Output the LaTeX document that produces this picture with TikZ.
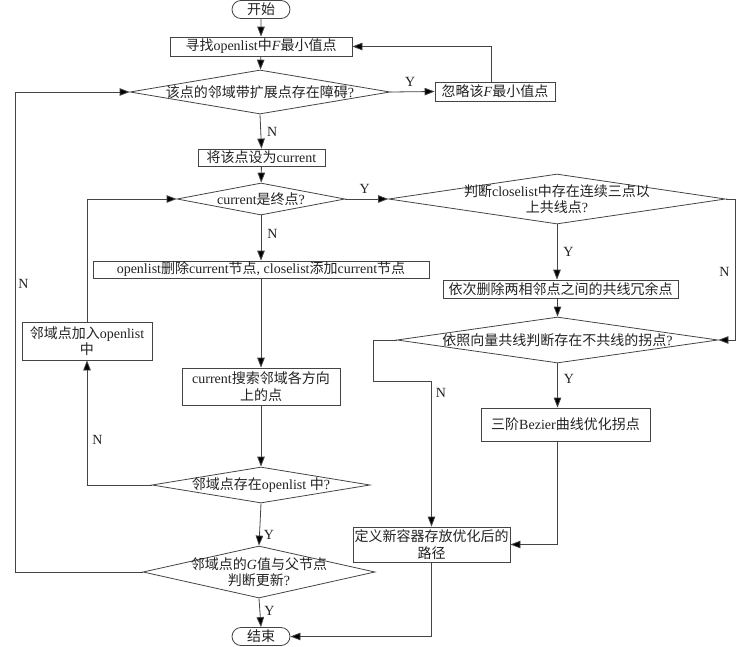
\documentclass[tikz,border=0pt]{standalone}
\usepackage{fontspec}
\setmainfont{Liberation Serif}
\newfontfamily\cjk{Noto Sans CJK SC}
\newcommand\zh[1]{{\cjk #1}}
\usepackage{tikz}
\usetikzlibrary{shapes.geometric, shapes.misc, arrows.meta, positioning, calc}
\definecolor{ink}{HTML}{222222}
\definecolor{edge}{HTML}{444444}
\tikzset{
  box/.style      = {draw=edge, line width=0.8pt, rectangle, align=center,
                     inner sep=0pt, font=\fontsize{14}{16.5}\selectfont, text=ink},
  term/.style     = {box, rounded rectangle, minimum width=58pt, minimum height=18pt},
  decision/.style = {draw=edge, line width=0.8pt, diamond, inner sep=0pt},
  dtext/.style    = {align=center, inner sep=0pt, font=\fontsize{14}{16.5}\selectfont, text=ink},
  flow/.style     = {-{Triangle[length=10pt,width=7.5pt,fill=black]}, draw=edge, line width=0.8pt},
  yn/.style       = {font=\fontsize{14}{16}\selectfont, text=ink, inner sep=0pt},
}

\begin{document}
\begin{tikzpicture}[x=1pt, y=-1pt]
  \useasboundingbox (0,0) rectangle (750,646);

  % main column
  \node[term] (start) at (261,9.5) {\zh{开始}};
  \node[box, minimum width=182pt, minimum height=19pt] (find) at (261,46.5)
    {\zh{寻找}openlist\zh{中}\textit{F}\zh{最小值点}};
  \node[decision, minimum width=260pt, minimum height=44pt] (d1) at (260,92) {};
  \node[dtext] (d1t) at (d1) {\zh{该点的邻域带扩展点存在障碍}?};
  \node[box, minimum width=120pt, minimum height=19pt] (skip) at (495,91.5)
    {\zh{忽略该}\textit{F}\zh{最小值点}};
  \node[box, minimum width=127pt, minimum height=17pt] (setcur) at (261.5,157.5)
    {\zh{将该点设为}current};
  \node[decision, minimum width=168pt, minimum height=32pt] (d2) at (261,199) {};
  \node[dtext] (d2t) at (d2) {current\zh{是终点}?};
  \node[box, minimum width=336pt, minimum height=17pt] (remove) at (261,269.5)
    {openlist\zh{删除}current\zh{节点}, closelist\zh{添加}current\zh{节点}};
  \node[box, minimum width=158pt, minimum height=37pt] (search) at (261,386.5)
    {current\zh{搜索邻域各方向}\\\zh{上的点}};
  \node[decision, minimum width=218pt, minimum height=36pt] (d5) at (261,485) {};
  \node[dtext] (d5t) at (d5) {\zh{邻域点存在}openlist \zh{中}?};
  \node[box, minimum width=130pt, minimum height=38pt] (addopen) at (87,341)
    {\zh{邻域点加入}openlist\\\zh{中}};
  \node[decision, minimum width=232pt, minimum height=52pt] (d6) at (259,572) {};
  \node[dtext] (d6t) at (d6) {\zh{邻域点的}\textit{G}\zh{值与父节点}\\\zh{判断更新}?};
  \node[term] (stop) at (261,636.5) {\zh{结束}};

  % right column
  \node[decision, minimum width=337pt, minimum height=50pt] (d3) at (557,199) {};
  \node[dtext] (d3t) at (d3) {\zh{判断}closelist\zh{中存在连续三点以}\\\zh{上共线点}?};
  \node[box, minimum width=235pt, minimum height=18pt] (dele) at (560.5,289)
    {\zh{依次删除两相邻点之间的共线冗余点}};
  \node[decision, minimum width=321pt, minimum height=46pt] (d4) at (557.5,340) {};
  \node[dtext] (d4t) at (d4) {\zh{依照向量共线判断存在不共线的拐点}?};
  \node[box, minimum width=169pt, minimum height=33pt] (bez) at (565.5,424.5)
    {\zh{三阶}Bezier\zh{曲线优化拐点}};
  \node[box, minimum width=157pt, minimum height=35pt] (define) at (431.5,544.5)
    {\zh{定义新容器存放优化后的}\\\zh{路径}};

  \coordinate (lft) at (15,0);
  \coordinate (rgt) at (735,0);
  \coordinate (jog) at (373,381);

  % connectors
  \draw[flow] (start) -- (find);
  \draw[flow] (find) -- (d1);
  \draw[flow] (d1.east) -- (skip.west) node[yn, pos=0.45, above=5pt] (y1) {Y};
  \draw[flow] ([xshift=-4pt]skip.north) |- (find.east);
  \draw[flow] (d1.south) -- (setcur.north) node[yn, midway, right=6pt] (n1) {N};
  \draw[flow] (setcur) -- (d2);
  \draw[flow] (d2.south) -- (remove.north) node[yn, pos=0.4, right=6pt] (n2) {N};
  \draw[flow] (d2.east) -- (d3.west) node[yn, pos=0.45, above=5pt] (y2) {Y};
  \draw[flow] (remove) -- (search);
  \draw[flow] (search) -- (d5);
  \draw[flow] (d5.west) -| (addopen.south) node[yn, pos=0.68, right=5pt] (n3) {N};
  \draw[flow] (addopen.north) |- (d2.west);
  \draw[flow] (d5.south) -- (d6.north) node[yn, pos=0.75, right=4pt] (y3) {Y};
  \draw[flow] (d6.west) -- (d6.west -| lft)
    -- node[yn, pos=0.6, right=3pt] (n4) {N} (d1.west -| lft) -- (d1.west);
  \draw[flow] (d6.south) -- (stop.north) node[yn, pos=0.45, right=4pt] (y4) {Y};

  \draw[flow] (d3.south) -- (d3.south |- dele.north) node[yn, midway, right=6pt] (y5) {Y};
  \draw[flow] (d3.east) -- (d3.east -| rgt) |- (d4.east) node[yn, pos=0.26, left=5pt] (n5) {N};
  \draw[flow] (d4.south |- dele.south) -- (d4.north);
  \draw[flow] (d4.south) -- (d4.south |- bez.north) node[yn, pos=0.35, right=6pt] (y6) {Y};
  \draw[flow] (d4.west) -| (jog) -| (define.north) node[yn, pos=0.54, right=4pt] (n6) {N};
  \draw[flow] (d4.south |- bez.south) |- (define.east);
  \draw[flow] (define.south) |- (stop.east);
\end{tikzpicture}
\end{document}
